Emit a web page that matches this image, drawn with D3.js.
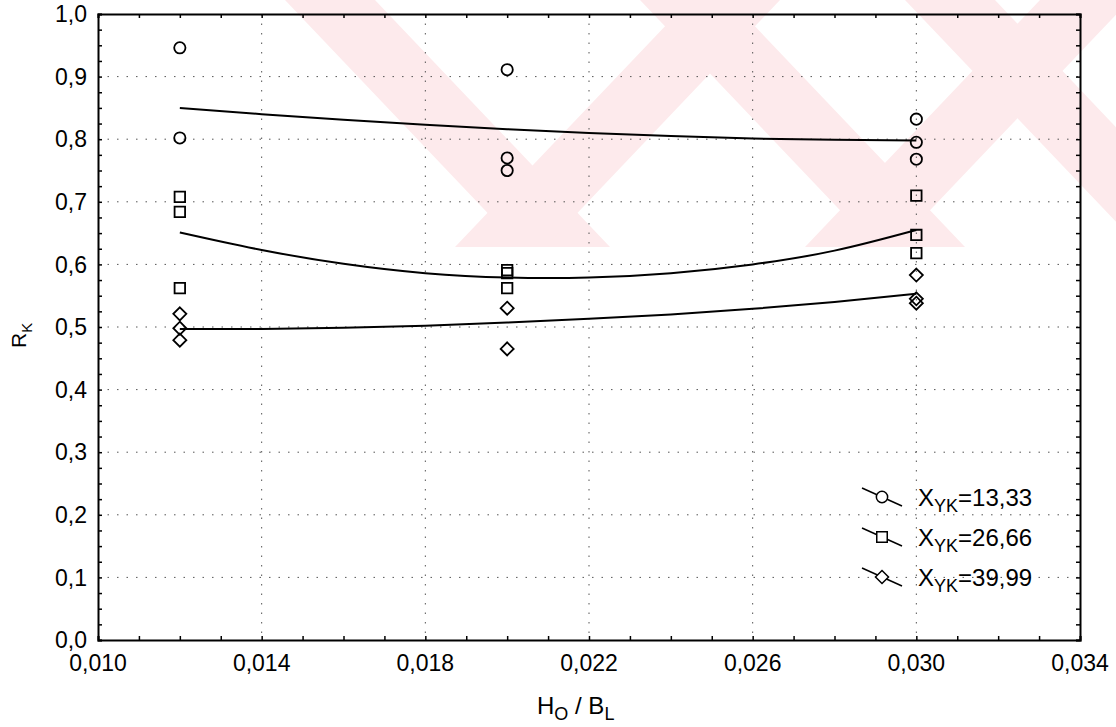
<!DOCTYPE html>
<html>
<head>
<meta charset="utf-8">
<script src="https://cdn.jsdelivr.net/npm/d3@7"></script>
<style>
  body { margin: 0; background: #fff; }
  svg { display: block; }
  text { font-family: "Liberation Sans", Arial, sans-serif; fill: #000; }
</style>
</head>
<body>
<div id="chart"></div>
<script>
// data
var series = ["13,33", "26,66", "39,99"];
var symbols = ["circle", "square", "diamond"];
// measured points for each series
var points13 = [[0.012, 0.946], [0.012, 0.802], [0.020, 0.911], [0.020, 0.770], [0.020, 0.750],
  [0.030, 0.832], [0.030, 0.795], [0.030, 0.768]];
var points26 = [[0.012, 0.708], [0.012, 0.684], [0.012, 0.562], [0.020, 0.591], [0.020, 0.586],
  [0.020, 0.562], [0.030, 0.710], [0.030, 0.647], [0.030, 0.618]];
var points39 = [[0.012, 0.521], [0.012, 0.498], [0.012, 0.479], [0.020, 0.530], [0.020, 0.465],
  [0.030, 0.583], [0.030, 0.545], [0.030, 0.538]];
// fitted curves
var curveX = [0.012, 0.014, 0.016, 0.018, 0.020, 0.022, 0.024, 0.026, 0.028, 0.030];
var curve13 = [0.850, 0.840, 0.831, 0.823, 0.816, 0.810, 0.805, 0.801, 0.799, 0.798];
var curve26 = [0.651, 0.623, 0.601, 0.586, 0.579, 0.579, 0.586, 0.600, 0.622, 0.655];
var curve39 = [0.497, 0.497, 0.499, 0.502, 0.507, 0.513, 0.520, 0.529, 0.540, 0.553];
var xTicks = [0.010, 0.014, 0.018, 0.022, 0.026, 0.030, 0.034];
var yTicks = [0.0, 0.1, 0.2, 0.3, 0.4, 0.5, 0.6, 0.7, 0.8, 0.9, 1.0];

var svgWidth = 1116;
var svgHeight = 727;
var margin = { top: 14, right: 36, bottom: 87, left: 98 };
var width = svgWidth - margin.left - margin.right;
var height = svgHeight - margin.top - margin.bottom;

var svg = d3.select("#chart").append("svg")
  .attr("width", svgWidth)
  .attr("height", svgHeight);

// pale watermark stripes in the background
var wm = svg.append("g").attr("fill", "#fdeaec");
var stripes = [[285, 520, 90], [690, 455, 90], [640, 875, 90], [1040, 805, 90], [905, 1140, 90]];
stripes.forEach(function(s) {
  var w = s[2], h = 247;
  wm.append("path").attr("d", "M" + s[0] + ",0 L" + (s[0] + w) + ",0 L" + (s[1] + w) + "," + h + " L" + s[1] + "," + h + "Z");
});

var g = svg.append("g").attr("transform", `translate(${margin.left}, ${margin.top})`);

var x = d3.scaleLinear().domain([0.010, 0.034]).range([0, width]);
var y = d3.scaleLinear().domain([0, 1]).range([height, 0]);

var loc = d3.formatLocale({ decimal: ",", thousands: ".", grouping: [3], currency: ["", ""] });
var fx = loc.format(".3f");
var fy = loc.format(".1f");

// dotted grid
g.append("g").selectAll("line").data(yTicks.slice(1, -1)).enter().append("line")
  .attr("x1", 0).attr("x2", width)
  .attr("y1", d => y(d)).attr("y2", d => y(d))
  .attr("stroke", "#555").attr("stroke-width", 1).attr("stroke-dasharray", "1.5,8");
g.append("g").selectAll("line").data(xTicks.slice(1, -1)).enter().append("line")
  .attr("y1", 0).attr("y2", height)
  .attr("x1", d => x(d)).attr("x2", d => x(d))
  .attr("stroke", "#555").attr("stroke-width", 1).attr("stroke-dasharray", "1.5,8");

// axes with inward ticks, minor ticks too
var minorX = d3.range(0.010, 0.0345, 0.001);
var minorY = d3.range(0, 1.001, 0.025);

var bottomAxis = g.append("g").attr("transform", `translate(0,${height})`)
  .call(d3.axisBottom(x).tickValues(minorX).tickSize(-4).tickFormat(""));
var topAxis = g.append("g")
  .call(d3.axisTop(x).tickValues(minorX).tickSize(-4).tickFormat(""));
var leftAxis = g.append("g")
  .call(d3.axisLeft(y).tickValues(minorY).tickSize(-4).tickFormat(""));
var rightAxis = g.append("g").attr("transform", `translate(${width},0)`)
  .call(d3.axisRight(y).tickValues(minorY).tickSize(-4).tickFormat(""));
[bottomAxis, topAxis, leftAxis, rightAxis].forEach(function(a) {
  a.select(".domain").attr("stroke-width", 2);
  a.selectAll(".tick line").attr("stroke-width", 1.5);
});

// tick labels
g.append("g").selectAll("text").data(xTicks).enter().append("text")
  .attr("x", d => x(d)).attr("y", height + 31)
  .attr("text-anchor", "middle").attr("font-size", 23)
  .text(d => fx(d));
g.append("g").selectAll("text").data(yTicks).enter().append("text")
  .attr("x", -11).attr("y", d => y(d)).attr("dy", "0.36em")
  .attr("text-anchor", "end").attr("font-size", 23)
  .text(d => fy(d));

// axis titles
var xt = svg.append("text").attr("x", 537).attr("y", 714).attr("font-size", 24);
xt.append("tspan").text("H");
xt.append("tspan").attr("font-size", 18).attr("dy", 6).text("O");
xt.append("tspan").attr("dy", -6).text(" / B");
xt.append("tspan").attr("font-size", 18).attr("dy", 6).text("L");

var yt = svg.append("text").attr("transform", "translate(26,348) rotate(-90)").attr("font-size", 21);
yt.append("tspan").text("R");
yt.append("tspan").attr("font-size", 15).attr("dy", 6).text("K");

// fitted curves
var line = d3.line().x((d, i) => x(curveX[i])).y(d => y(d)).curve(d3.curveNatural);
[curve13, curve26, curve39].forEach(function(c) {
  g.append("path").datum(c).attr("d", line)
    .attr("fill", "none").attr("stroke", "#000").attr("stroke-width", 2);
});

// markers; diamond is a square turned by 45 degrees
var diamond = { draw: function(ctx, size) {
  var r = Math.sqrt(size / 2);
  ctx.moveTo(0, -r); ctx.lineTo(r, 0); ctx.lineTo(0, r); ctx.lineTo(-r, 0); ctx.closePath();
} };
var symGen = {
  circle: d3.symbol().type(d3.symbolCircle).size(100),
  square: d3.symbol().type(d3.symbolSquare).size(110),
  diamond: d3.symbol().type(diamond).size(85)
};
[points13, points26, points39].forEach(function(pts, i) {
  g.append("g").selectAll("path").data(pts).enter().append("path")
    .attr("d", symGen[symbols[i]])
    .attr("transform", d => `translate(${x(d[0])},${y(d[1])})`)
    .attr("fill", "none").attr("stroke", "#000").attr("stroke-width", 1.8);
});

// legend
var legend = svg.append("g").attr("transform", "translate(882,497)");
series.forEach(function(s, i) {
  var row = legend.append("g").attr("transform", `translate(0,${i * 40})`);
  row.append("line").attr("x1", -20).attr("y1", -9).attr("x2", 20).attr("y2", 9)
    .attr("stroke", "#000").attr("stroke-width", 1.5);
  row.append("path").attr("d", symGen[symbols[i]])
    .attr("fill", "#fff").attr("stroke", "#000").attr("stroke-width", 1.5);
  var t = row.append("text").attr("x", 36).attr("y", 9).attr("font-size", 24);
  t.append("tspan").text("X");
  t.append("tspan").attr("font-size", 18).attr("dy", 6).text("YK");
  t.append("tspan").attr("dy", -6).text("=" + s);
});
</script>
</body>
</html>
